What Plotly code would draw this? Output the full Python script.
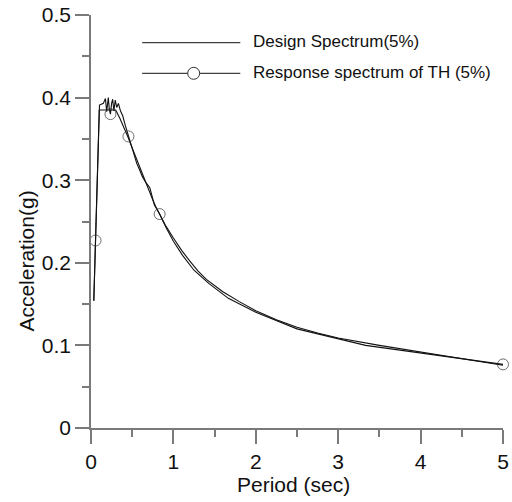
import plotly.graph_objects as go

# Design spectrum (5%)
design_T = [0.034, 0.1, 0.2, 0.3, 0.35, 0.4, 0.45, 0.5, 0.55, 0.6, 0.65, 0.7, 0.75, 0.8,
            0.9, 1.0, 1.1, 1.2, 1.3, 1.4, 1.5, 1.6, 1.8, 2.0, 2.25, 2.5, 2.75, 3.0,
            3.5, 4.0, 4.5, 5.0]
design_A = [0.154, 0.385, 0.385, 0.385, 0.375, 0.364, 0.352, 0.339, 0.326, 0.314, 0.302,
            0.288, 0.276, 0.265, 0.246, 0.230, 0.215, 0.202, 0.190, 0.180, 0.172, 0.165,
            0.153, 0.142, 0.131, 0.122, 0.115, 0.109, 0.100, 0.092, 0.084, 0.076]

# Response spectrum of time history (5%)
resp_T = [0.034, 0.055, 0.103, 0.15, 0.175, 0.19, 0.21, 0.222, 0.236, 0.25, 0.263, 0.278,
          0.294, 0.3125, 0.333, 0.357, 0.385, 0.417, 0.4545, 0.476, 0.5, 0.526, 0.556,
          0.588, 0.625, 0.667, 0.714, 0.769, 0.833, 0.909, 1.0, 1.111, 1.25, 1.429, 1.667,
          2.0, 2.5, 3.333, 5.0]
resp_A = [0.154, 0.227, 0.391, 0.393, 0.399, 0.383, 0.400, 0.386, 0.380, 0.393, 0.398,
          0.384, 0.397, 0.388, 0.393, 0.384, 0.378, 0.366, 0.353, 0.346, 0.339, 0.331,
          0.320, 0.313, 0.304, 0.297, 0.291, 0.270, 0.259, 0.243, 0.226, 0.209, 0.191,
          0.175, 0.157, 0.140, 0.120, 0.100, 0.077]
# points of the response spectrum that carry a circle marker
marker_T = [0.055, 0.236, 0.4545, 0.833, 5.0]

legend_labels = ["Design Spectrum(5%)", "Response spectrum of TH (5%)"]
x_title = "Period (sec)"
y_title = "Acceleration(g)"

FONT = "Arial, Liberation Sans, Helvetica, sans-serif"
AXIS_COLOR = "#7a7a7a"

marker_sizes = [11 if t in marker_T else 0 for t in resp_T]

fig = go.Figure()
fig.add_trace(go.Scatter(x=design_T, y=design_A, mode="lines",
                         line=dict(color="#111111", width=1.1), name=legend_labels[0],
                         showlegend=False, cliponaxis=False))
fig.add_trace(go.Scatter(x=resp_T, y=resp_A, mode="lines+markers",
                         line=dict(color="#111111", width=1.1),
                         marker=dict(symbol="circle-open", size=marker_sizes,
                                     color="#333333", line=dict(width=1)),
                         name=legend_labels[1], showlegend=False, cliponaxis=False))

L, R, T, B = 90.5, 503.0, 15.0, 428.0
W, H = R - L, B - T


def px(x):
    return (x - L) / W


def py(y):
    return (B - y) / H


shapes = [
    dict(type="line", xref="paper", yref="paper", x0=px(141.7), x1=px(240), y0=py(42.7), y1=py(42.7),
         line=dict(color="#111111", width=1)),
    dict(type="line", xref="paper", yref="paper", x0=px(141.7), x1=px(240), y0=py(73.3), y1=py(73.3),
         line=dict(color="#111111", width=1)),
    dict(type="circle", xref="paper", yref="paper", xsizemode="pixel", ysizemode="pixel",
         xanchor=px(193.3), yanchor=py(73.3), x0=-6, x1=6, y0=-6, y1=6,
         fillcolor="white", line=dict(color="#333333", width=1)),
]
annotations = [
    dict(text=legend_labels[0], xref="paper", yref="paper", x=px(251), y=py(41.5),
         xanchor="left", yanchor="middle", showarrow=False, font=dict(family=FONT, size=17, color="#111111")),
    dict(text=legend_labels[1], xref="paper", yref="paper", x=px(251), y=py(72.5),
         xanchor="left", yanchor="middle", showarrow=False, font=dict(family=FONT, size=17, color="#111111")),
    dict(text=x_title, xref="paper", yref="paper", x=px(293.5), y=py(484),
         xanchor="center", yanchor="middle", showarrow=False, font=dict(family=FONT, size=21, color="#111111")),
    dict(text=y_title, xref="paper", yref="paper", x=px(25), y=py(261), textangle=-90,
         xanchor="center", yanchor="middle", showarrow=False, font=dict(family=FONT, size=21, color="#111111")),
]

fig.update_layout(
    width=512, height=502, autosize=False,
    margin=dict(l=L, r=512 - R, t=T, b=502 - B, pad=0, autoexpand=False),
    paper_bgcolor="white", plot_bgcolor="white",
    shapes=shapes, annotations=annotations, showlegend=False,
    font=dict(family=FONT, size=21, color="#111111"),
    xaxis=dict(range=[0, 5], dtick=1, tick0=0, showgrid=False, zeroline=False, automargin=False,
               showline=True, linecolor=AXIS_COLOR, linewidth=1.5,
               ticks="outside", ticklen=14, tickwidth=1.5, tickcolor=AXIS_COLOR,
               minor=dict(dtick=0.5, ticks="outside", ticklen=7, tickwidth=1.5, tickcolor=AXIS_COLOR, showgrid=False),
               tickfont=dict(family=FONT, size=21, color="#111111")),
    yaxis=dict(range=[0, 0.5], dtick=0.1, tick0=0, showgrid=False, zeroline=False, automargin=False,
               showline=True, linecolor=AXIS_COLOR, linewidth=1.5,
               ticks="outside", ticklen=14, tickwidth=1.5, tickcolor=AXIS_COLOR,
               minor=dict(dtick=0.05, ticks="outside", ticklen=7, tickwidth=1.5, tickcolor=AXIS_COLOR, showgrid=False),
               tickfont=dict(family=FONT, size=21, color="#111111")),
)

fig.write_html("out.html")
